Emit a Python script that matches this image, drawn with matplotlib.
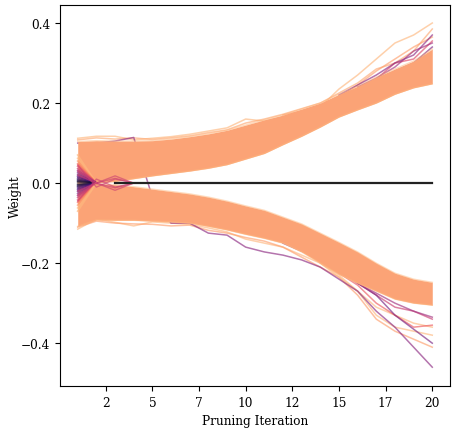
import numpy as np
import matplotlib
matplotlib.use('Agg')
from matplotlib import pyplot as plt
from matplotlib.ticker import FuncFormatter

plt.rcParams['font.family'] = 'DejaVu Serif'
plt.rcParams['font.size'] = 8.7

iters = np.arange(1, 21)

# dense part of the surviving weights (edges of the two bands)
upper_top = [0.104, 0.106, 0.105, 0.105, 0.106, 0.110, 0.116, 0.123, 0.132, 0.145,
             0.158, 0.170, 0.185, 0.200, 0.222, 0.242, 0.265, 0.285, 0.305, 0.335]
upper_bot = [0.000, 0.001, 0.004, 0.011, 0.018, 0.024, 0.030, 0.037, 0.046, 0.060,
             0.074, 0.096, 0.117, 0.140, 0.165, 0.183, 0.200, 0.222, 0.238, 0.248]
lower_top = [0.000, -0.001, -0.004, -0.009, -0.015, -0.021, -0.027, -0.035, -0.045, -0.057,
             -0.068, -0.085, -0.102, -0.125, -0.148, -0.172, -0.200, -0.225, -0.240, -0.248]
lower_bot = [-0.108, -0.092, -0.093, -0.093, -0.095, -0.097, -0.100, -0.108, -0.117, -0.128,
             -0.138, -0.150, -0.172, -0.200, -0.228, -0.250, -0.270, -0.290, -0.300, -0.305]

# lines sticking out of the bands: (first iteration, values, magma position)
pale_top_a = (1, [0.112, 0.117, 0.117, 0.108, 0.112, 0.116, 0.122, 0.130, 0.138, 0.160,
                  0.155, 0.165, 0.180, 0.190, 0.235, 0.270, 0.310, 0.350, 0.370, 0.400], 0.85)
pale_top_b = (1, [0.108, 0.113, 0.110, 0.113, 0.109, 0.113, 0.118, 0.126, 0.133, 0.150,
                  0.160, 0.172, 0.186, 0.200, 0.225, 0.250, 0.285, 0.300, 0.330, 0.385], 0.82)
pale_top_c = (12, [0.170, 0.180, 0.195, 0.215, 0.245, 0.280, 0.310, 0.340, 0.365], 0.8)
purple_top_a = (15, [0.220, 0.245, 0.270, 0.300, 0.320, 0.370], 0.4)
purple_top_b = (16, [0.240, 0.262, 0.290, 0.330, 0.350], 0.45)
purple_top_c = (17, [0.255, 0.280, 0.300, 0.340], 0.35)
pink_top = (16, [0.235, 0.260, 0.300, 0.310, 0.355], 0.6)

pale_low_a = (1, [-0.115, -0.090, -0.098, -0.107, -0.097, -0.100, -0.103, -0.112, -0.122, -0.140,
                  -0.150, -0.160, -0.180, -0.200, -0.230, -0.270, -0.330, -0.360, -0.370, -0.380], 0.85)
pale_low_b = (1, [-0.110, -0.095, -0.100, -0.102, -0.103, -0.107, -0.105, -0.118, -0.125, -0.136,
                  -0.145, -0.160, -0.185, -0.210, -0.235, -0.280, -0.340, -0.370, -0.390, -0.410], 0.8)
pale_low_c = (14, [-0.200, -0.235, -0.270, -0.310, -0.330, -0.350, -0.360], 0.85)
pink_low_a = (15, [-0.225, -0.255, -0.300, -0.330, -0.360, -0.355], 0.65)
pink_low_b = (16, [-0.250, -0.280, -0.310, -0.320, -0.340], 0.55)
purple_low_a = (1, [0.100, 0.100, 0.105, 0.114, -0.035, -0.100, -0.100, -0.125, -0.130, -0.160,
                    -0.172, -0.180, -0.192, -0.210, -0.240, -0.270, -0.320, -0.360, -0.410, -0.460], 0.4)
purple_low_b = (12, [-0.150, -0.170, -0.190, -0.220, -0.250, -0.280, -0.330, -0.365, -0.400], 0.35)
purple_low_c = (16, [-0.250, -0.275, -0.300, -0.320, -0.335], 0.45)

outliers = [pale_top_a, pale_top_b, pale_top_c, pink_top, purple_top_a, purple_top_b,
            purple_top_c, pale_low_a, pale_low_b, pale_low_c, pink_low_a, pink_low_b,
            purple_low_a, purple_low_b, purple_low_c]

# small weights pruned in the first iteration (value at iteration 1, zero at iteration 2)
wedge_start = [0.070, 0.062, 0.055, 0.048, 0.042, 0.036, 0.031, 0.026, 0.021, 0.017,
               0.013, 0.009, 0.006, 0.003, -0.003, -0.006, -0.009, -0.013, -0.017, -0.021,
               -0.026, -0.031, -0.036, -0.042, -0.048, -0.055, -0.062, -0.070]
# weights that cross zero at iteration 2 and are pruned at iteration 3
cross_lines = [[0.030, 0.0, -0.018, 0.0], [-0.030, 0.0, 0.018, 0.0],
               [0.020, 0.0, -0.012, 0.0], [-0.020, 0.0, 0.012, 0.0],
               [0.045, -0.010, 0.010, 0.0], [-0.045, 0.010, -0.010, 0.0]]
# pruned weights stay at zero
zero_from = 3

cmap = plt.get_cmap('magma')

fig = plt.figure(figsize=(4.57, 4.31), dpi=100)
ax = fig.add_axes([60 / 457, 44 / 431, 390 / 457, 381 / 431])

for start, vals, c in outliers:
    ax.plot(np.arange(start, start + len(vals)), vals, color=cmap(c), alpha=0.65, lw=1.1, zorder=1)

band_col = '#fba376'
ax.fill_between(iters, upper_bot, upper_top, color=band_col, lw=0, zorder=2)
ax.fill_between(iters, lower_bot, lower_top, color=band_col, lw=0, zorder=2)
for edge in [upper_top, upper_bot, lower_top, lower_bot]:
    ax.plot(iters, edge, color=cmap(0.85), alpha=0.5, lw=1.0, zorder=2)

for w0 in wedge_start:
    c = 0.05 + min(abs(w0) / 0.06, 1.0) * 0.8
    ax.plot([1, 2], [w0, 0.0], color=cmap(c), alpha=0.7, lw=1.3, zorder=3)

for vals in cross_lines:
    ax.plot(np.arange(1, 1 + len(vals)), vals, color=cmap(0.55), alpha=0.6, lw=1.0, zorder=3)

zx = np.arange(zero_from, 21)
ax.plot(zx, np.zeros(len(zx)), color='#222222', lw=1.6, zorder=4)

ax.set_xlim(0.05, 20.95)
ax.set_ylim(-0.507, 0.445)
ax.set_xticks(np.linspace(2.5, 20, 8))
ax.xaxis.set_major_formatter(FuncFormatter(lambda v, p: str(int(v))))
ax.set_yticks([-0.4, -0.2, 0.0, 0.2, 0.4])
ax.set_xlabel('Pruning Iteration')
ax.set_ylabel('Weight')
ax.yaxis.set_label_coords(-0.097, 0.5)

plt.savefig('out.png', dpi=100)
